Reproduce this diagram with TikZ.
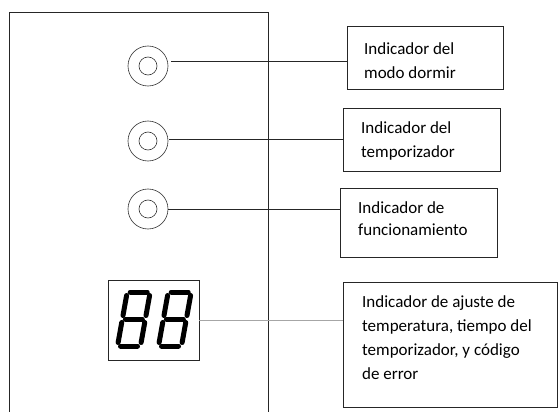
\documentclass[tikz,border=0pt]{standalone}
\usepackage{fontspec}
\setmainfont{Carlito}
\usepackage{tikz}

\tikzset{
  ledring/.style={circle,draw=black!80,line width=0.6pt,minimum size=40pt,inner sep=0pt},
  infobox/.style={draw=black!85,line width=0.8pt,anchor=north west,inner sep=0pt},
  infotext/.style={anchor=north west,align=left,inner sep=0pt,font=\fontsize{17}{24}\selectfont},
  seg/.style={line width=5pt,line cap=round,black}
}

% one seven-segment "8", lower left corner at (#1,348)
\newcommand{\segeight}[1]{%
  \begin{scope}[shift={(#1,346)},xslant=0.18]
    \draw[seg] (5.5,0) -- (22.5,0);
    \draw[seg] (5.5,-27) -- (22.5,-27);
    \draw[seg] (5.5,-54) -- (22.5,-54);
    \draw[seg] (2.5,-3.5) -- (2.5,-23.5);
    \draw[seg] (2.5,-30.5) -- (2.5,-50.5);
    \draw[seg] (25.5,-3.5) -- (25.5,-23.5);
    \draw[seg] (25.5,-30.5) -- (25.5,-50.5);
  \end{scope}}

\begin{document}
\begin{tikzpicture}[x=1pt,y=-1pt]
  \useasboundingbox (0,0) rectangle (558,412);

  % Front panel
  \draw[line width=0.8pt,black!85] (9,412) -- (9,12) -- (268,12) -- (268,412);

  % Indicator lamps
  \node[ledring] (c1) at (148,66) {};
  \node[ledring] (c2) at (148,141) {};
  \node[ledring] (c3) at (148,209) {};
  \foreach \c in {c1,c2,c3}
    \draw[black!80,line width=0.6pt] (\c) circle (9);

  % Display
  \node[draw=black!85,line width=0.8pt,minimum width=91pt,minimum height=80pt,inner sep=0pt] (disp) at (153.5,320) {};
  \segeight{115}
  \segeight{156}

  % Label boxes
  \node[infobox,minimum width=156pt,minimum height=63pt] (b1) at (347,26) {};
  \node[infotext] at (364,42) {Indicador del\\modo dormir};

  \node[infobox,minimum width=157pt,minimum height=63pt] (b2) at (343,108) {};
  \node[infotext] at (361,121) {Indicador del\\temporizador};

  \node[infobox,minimum width=157pt,minimum height=69pt] (b3) at (340,188) {};
  \node[infotext,font=\fontsize{17}{22}\selectfont] at (358,201) {Indicador de\\funcionamiento};

  \node[infobox,minimum width=214pt,minimum height=125pt] (b4) at (343,282) {};
  \node[infotext] at (362,295) {Indicador de ajuste de\\temperatura, tiempo del\\temporizador, y código\\de error};

  % Leader lines
  \coordinate (l1) at (171,61);
  \coordinate (l2) at (169,139);
  \draw[black!85,line width=0.8pt] (l1) -- (l1 -| b1.west);
  \draw[black!85,line width=0.8pt] (l2) -- (l2 -| b2.west);
  \draw[black!85,line width=0.8pt] (c3.east) -- (c3.east -| b3.west);
  \draw[black!35,line width=1pt] (disp.east) -- (disp.east -| b4.west);
\end{tikzpicture}
\end{document}
